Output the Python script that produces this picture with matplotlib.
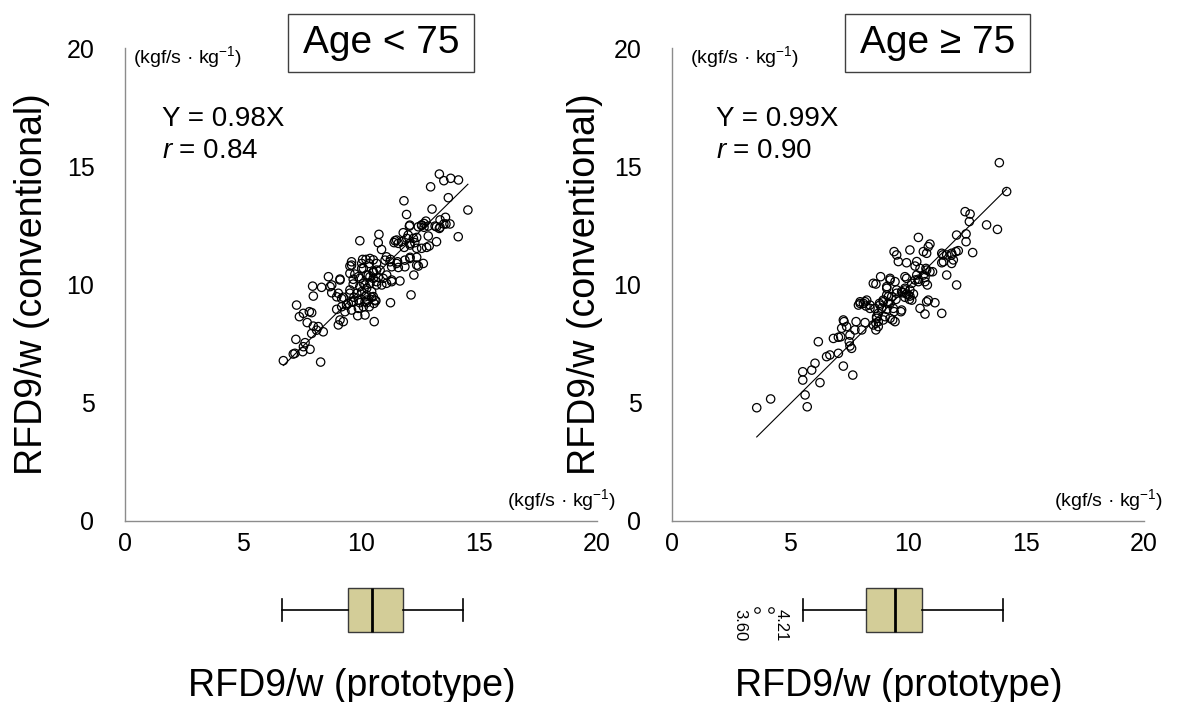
import matplotlib.pyplot as plt
from matplotlib.patches import Rectangle

plt.rcParams['font.family'] = ['Liberation Sans', 'DejaVu Sans']
plt.rcParams['mathtext.fontset'] = 'custom'
plt.rcParams['mathtext.rm'] = 'Liberation Sans'
plt.rcParams['mathtext.it'] = 'Liberation Sans:italic'

# ---- data ----
# Age < 75 : prototype (x) vs conventional (y)
young_x = [13.32, 13.51, 13.80, 14.13, 12.95, 13.70, 11.82, 14.53, 13.01, 11.93,
           14.12, 12.75, 12.67, 12.57, 12.43, 13.58, 13.35, 13.20, 13.32, 13.51,
           13.77, 12.07, 11.79, 12.00, 12.22, 12.36, 12.28, 12.07, 11.72, 11.51,
           11.40, 11.83, 12.36, 12.89, 13.20, 12.78, 10.76, 10.73, 9.95, 10.87,
           11.08, 11.25, 11.02, 11.30, 11.55, 11.86, 11.58, 11.86, 12.07, 12.36,
           12.64, 12.43, 12.24, 10.38, 10.07, 10.35, 9.60, 9.53, 10.03, 9.74,
           9.67, 9.95, 10.31, 10.52, 10.66, 10.73, 10.94, 11.08, 11.30, 10.66,
           10.38, 10.24, 9.95, 9.67, 9.53, 8.62, 9.11, 7.95, 8.33, 7.98,
           8.69, 8.76, 8.97, 9.18, 9.53, 9.70, 9.89, 10.17, 10.45, 10.63,
           10.24, 9.95, 9.60, 9.39, 9.18, 8.97, 9.32, 9.60, 9.89, 10.10,
           10.35, 10.55, 11.25, 12.12, 9.86, 10.17, 10.56, 9.11, 9.04, 9.25,
           7.27, 7.56, 7.39, 7.91, 7.81, 7.72, 7.98, 8.19, 8.12, 8.40,
           7.91, 7.24, 7.63, 7.56, 7.84, 7.20, 7.53, 7.13, 6.71, 8.29,
           12.05, 12.57, 12.67, 12.85, 13.14, 13.35, 13.60, 11.44, 11.58, 11.94,
           12.08, 12.85, 12.57, 10.21, 10.52, 11.23, 11.51, 12.08, 12.36, 10.10,
           10.52, 10.81, 11.09, 11.30, 11.65, 10.38, 10.66, 10.88, 10.17, 10.03,
           10.45, 10.24, 10.59, 9.60, 10.03, 10.66, 9.89, 10.24, 10.52, 9.53,
           10.10, 9.82, 10.24, 10.52, 9.04, 9.25, 9.46, 9.67, 10.17, 9.11,
           8.76]
young_y = [14.67, 14.39, 14.49, 14.42, 14.13, 13.67, 13.54, 13.15, 13.19, 12.96,
           12.02, 12.68, 12.58, 12.49, 12.44, 12.84, 12.73, 12.44, 12.37, 12.56,
           12.56, 12.51, 12.19, 12.09, 11.95, 11.99, 11.77, 11.74, 11.81, 11.88,
           11.77, 11.57, 11.53, 11.63, 11.81, 11.57, 12.12, 11.77, 11.85, 11.48,
           11.17, 11.06, 11.03, 10.75, 10.96, 10.75, 10.72, 11.03, 11.10, 11.15,
           10.89, 10.78, 10.40, 11.10, 11.06, 10.89, 10.96, 10.78, 10.68, 10.44,
           10.22, 10.26, 10.40, 10.50, 10.61, 10.30, 10.26, 10.05, 10.12, 9.98,
           10.05, 9.84, 9.91, 10.02, 9.77, 10.33, 10.23, 9.93, 9.88, 9.51,
           9.91, 9.65, 9.48, 9.41, 9.63, 9.46, 9.34, 9.48, 9.46, 9.31,
           9.23, 9.23, 9.27, 9.13, 9.06, 8.95, 8.85, 8.92, 8.99, 9.06,
           9.06, 9.20, 9.23, 9.56, 8.68, 8.71, 8.43, 8.50, 8.29, 8.43,
           9.13, 8.78, 8.64, 8.81, 8.85, 8.39, 8.24, 8.22, 8.07, 8.00,
           7.93, 7.68, 7.54, 7.37, 7.26, 7.09, 7.16, 7.06, 6.78, 6.72,
           12.47, 12.52, 12.42, 12.47, 12.47, 12.42, 12.56, 11.85, 11.74, 11.95,
           11.67, 12.05, 11.53, 11.06, 11.04, 10.96, 10.89, 11.15, 10.82, 10.68,
           10.54, 10.61, 10.40, 10.19, 10.15, 10.33, 10.12, 9.98, 9.98, 9.70,
           9.70, 9.34, 9.34, 10.82, 10.89, 10.89, 10.33, 10.40, 10.26, 10.47,
           10.05, 9.63, 9.56, 9.49, 9.63, 9.46, 9.20, 9.27, 9.27, 10.19,
           9.98]

# Age >= 75
old_x = [13.87, 14.18, 12.42, 12.63, 12.60, 13.33, 13.79, 12.06, 12.46, 12.46,
         12.74, 12.13, 11.85, 11.92, 11.47, 11.43, 11.64, 12.06, 10.44, 10.93,
         10.65, 10.79, 10.08, 9.41, 9.52, 9.59, 9.94, 10.37, 10.30, 10.51,
         10.76, 11.04, 10.72, 10.37, 10.82, 10.44, 9.87, 8.84, 9.24, 9.45,
         8.64, 9.10, 9.52, 9.87, 9.94, 10.08, 9.87, 10.06, 10.23, 9.77,
         9.17, 8.95, 9.24, 9.49, 8.79, 8.88, 9.10, 8.74, 9.41, 9.70,
         9.35, 9.03, 8.67, 8.64, 8.74, 8.64, 8.39, 8.18, 7.97, 8.22,
         10.86, 11.14, 10.51, 10.72, 11.43, 8.18, 7.80, 7.75, 8.04, 7.29,
         7.19, 7.40, 7.54, 7.15, 7.51, 7.61, 7.54, 6.84, 7.05, 6.20,
         7.05, 6.69, 6.55, 7.26, 7.66, 6.06, 5.92, 5.54, 5.54, 6.27,
         5.64, 5.73, 4.18, 3.59,
         10.86, 11.43, 11.64, 11.85, 12.03, 11.50, 11.85, 10.93, 10.79, 10.65,
         10.44, 10.72, 9.94, 10.16, 10.30, 9.24, 9.10, 9.87, 10.08, 10.01,
         10.16, 9.73, 8.53, 9.10, 9.31, 9.52, 8.95, 9.17, 8.81, 8.60,
         7.97, 8.11, 8.25, 8.39, 7.90, 10.79, 9.73, 9.38, 9.24, 9.45,
         8.67, 8.95, 8.53, 8.74, 7.26]
old_y = [15.15, 13.93, 13.08, 12.98, 12.66, 12.52, 12.33, 12.09, 12.14, 11.81,
         11.35, 11.43, 11.25, 11.04, 11.25, 10.92, 10.40, 9.98, 11.99, 11.71,
         11.39, 11.32, 11.46, 11.39, 11.25, 10.97, 10.92, 10.97, 10.78, 10.68,
         10.68, 10.54, 10.30, 10.40, 9.98, 10.12, 10.33, 10.33, 10.26, 10.12,
         10.02, 9.84, 9.77, 9.77, 9.60, 9.51, 9.46, 9.37, 9.60, 9.65,
         9.49, 9.27, 9.20, 9.37, 9.20, 8.99, 8.95, 8.78, 8.85, 8.85,
         8.50, 8.64, 8.57, 8.36, 8.43, 8.08, 8.99, 9.27, 9.20, 9.09,
         9.34, 9.23, 8.99, 8.75, 8.78, 8.39, 8.43, 8.08, 8.08, 8.43,
         8.15, 8.22, 7.86, 7.79, 7.58, 7.30, 7.40, 7.72, 7.77, 7.58,
         7.09, 7.02, 6.95, 6.55, 6.17, 6.67, 6.38, 6.31, 5.96, 5.85,
         5.33, 4.83, 5.16, 4.79,
         11.60, 11.32, 11.25, 11.32, 11.39, 10.96, 10.89, 10.54, 10.61, 10.40,
         10.22, 10.12, 10.26, 10.05, 10.19, 10.19, 9.91, 9.84, 9.77, 9.56,
         9.34, 9.70, 10.05, 9.56, 9.49, 9.63, 9.34, 9.20, 9.13, 8.99,
         9.27, 9.20, 9.34, 9.13, 9.13, 9.27, 8.92, 8.99, 8.57, 8.43,
         8.64, 8.50, 8.29, 8.22, 8.50]

slopes = [0.98, 0.99]
r_values = ['0.84', '0.90']
titles = ['Age < 75', 'Age \u2265 75']

# box plot summaries of the prototype values
young_box = {'whislo': 6.67, 'q1': 9.46, 'med': 10.47, 'q3': 11.80,
             'whishi': 14.34, 'fliers': []}
old_box = {'whislo': 5.56, 'q1': 8.21, 'med': 9.45, 'q3': 10.58,
           'whishi': 14.04, 'fliers': [3.60, 4.21]}
old_flier_labels = ['3.60', '4.21']

unit = '(kgf/s \u00b7 kg$^{-1}$)'

fig = plt.figure(figsize=(11.92, 7.02), dpi=100)

W, H = 1192.0, 702.0


def draw_panel(left_px, x, y, slope, r, title, box, flier_labels, ylab_x,
               ytxt_x, ytop_x, box_left, box_w):
    ax = fig.add_axes([left_px / W, 181 / H, 472 / W, 473 / H])
    ax.scatter(x, y, s=36, facecolors='none', edgecolors='black',
               linewidths=0.9, zorder=3)
    line_x = [min(x), max(x)]
    ax.plot(line_x, [slope * v for v in line_x], color='black', lw=0.8,
            zorder=2)
    ax.set_xlim(0, 20)
    ax.set_ylim(0, 20)
    ax.set_xticks([0, 5, 10, 15, 20])
    ax.set_yticks([0, 5, 10, 15, 20])
    ax.tick_params(axis='both', labelsize=18, length=0)
    ax.tick_params(axis='x', pad=8)
    ax.tick_params(axis='y', pad=22)
    for s in ['top', 'right']:
        ax.spines[s].set_visible(False)
    for s in ['left', 'bottom']:
        ax.spines[s].set_color('#8c8c8c')
        ax.spines[s].set_linewidth(1.0)

    ax.set_ylabel('RFD9/w (conventional)', fontsize=27)
    ax.yaxis.set_label_coords(ylab_x, 0.5)
    ax.set_xlabel('RFD9/w (prototype)', fontsize=27)
    ax.xaxis.set_label_coords(0.48, -0.31)

    ax.text(ytop_x, 19.62, unit, fontsize=14, va='center', ha='left')
    ax.text(ytxt_x, 17.0, 'Y = %.2fX' % slope, fontsize=20, va='center')
    ax.text(ytxt_x, 15.64, '$r$ = ' + r, fontsize=20, va='center')
    ax.text(1.04, 0.045, unit, fontsize=14, va='center', ha='right',
            transform=ax.transAxes, clip_on=False)

    ax.add_patch(Rectangle((box_left, 0.949), box_w, 0.1226,
                           transform=ax.transAxes, fill=False,
                           edgecolor='#404040', lw=1.0, clip_on=False))
    ax.text(box_left + box_w / 2, 1.01, title, fontsize=28,
            transform=ax.transAxes, ha='center', va='center')

    bx = fig.add_axes([left_px / W, 57 / H, 472 / W, 70 / H])
    bx.bxp([box], orientation='horizontal', widths=0.64, patch_artist=True,
           boxprops=dict(facecolor='#d3cd98', edgecolor='#3a3a3a', lw=1.0),
           medianprops=dict(color='black', lw=2.0),
           whiskerprops=dict(color='black', lw=1.2),
           capprops=dict(color='black', lw=1.2),
           flierprops=dict(marker='o', markersize=4, markerfacecolor='none',
                           markeredgecolor='black', markeredgewidth=0.8))
    for val, lab, dx in zip(box['fliers'], flier_labels, [-12, 7]):
        bx.annotate(lab, xy=(val, 1), xytext=(dx, 1), textcoords='offset points',
                    rotation=-90, ha='center', va='top', fontsize=12)
    bx.set_xlim(0, 20)
    bx.set_ylim(0.5, 1.5)
    bx.axis('off')
    return ax


draw_panel(125, young_x, young_y, slopes[0], r_values[0], titles[0],
           young_box, [], -0.159, 1.57, 0.34, 0.345, 0.394)
draw_panel(672, old_x, old_y, slopes[1], r_values[1], titles[1],
           old_box, old_flier_labels, -0.146, 1.86, 0.76, 0.3665, 0.392)

fig.savefig('out.png', dpi=100)
